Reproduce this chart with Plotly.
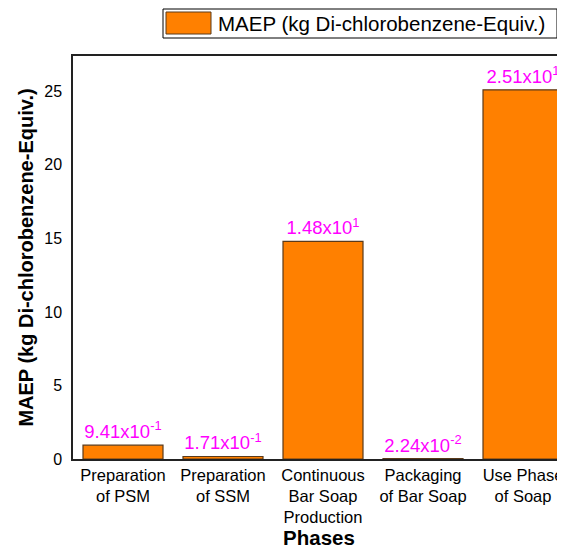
import plotly.graph_objects as go

categories = ["Preparation<br>of PSM", "Preparation<br>of SSM", "Continuous<br>Bar Soap<br>Production",
              "Packaging<br>of Bar Soap", "Use Phase<br>of Soap"]
values = [0.941, 0.171, 14.8, 0.0224, 25.1]
labels = ["9.41x10<sup>-1</sup>", "1.71x10<sup>-1</sup>", "1.48x10<sup>1</sup>",
          "2.24x10<sup>-2</sup>", "2.51x10<sup>1</sup>"]
series_name = "MAEP (kg Di-chlorobenzene-Equiv.)"
y_ticks = [0, 5, 10, 15, 20, 25]

OFF = 8  # page body margin offset
W, H = 565 - OFF, 552 - OFF
ML, MR, MT, MB = 73 - OFF, 0, 56 - OFF, 552 - 459
PW, PH = W - ML - MR, H - MT - MB

fig = go.Figure()
fig.add_trace(go.Bar(
    x=list(range(len(categories))), y=values, width=0.8,
    marker=dict(color="#FF8000", line=dict(color="#5a3a1a", width=1.2)),
    text=labels, textposition="outside", cliponaxis=False, constraintext="none",
    textfont=dict(color="#FF00FF", size=18.5, family="Liberation Sans, Arial"),
    name=series_name, showlegend=False,
))

fig.update_layout(
    width=W, height=H,
    margin=dict(l=ML, r=MR, t=MT, b=MB, autoexpand=False),
    paper_bgcolor="white", plot_bgcolor="white",
    font=dict(family="Liberation Sans, Arial", color="black", size=16),
    bargap=0.2,
    xaxis=dict(
        tickmode="array", tickvals=list(range(len(categories))), ticktext=categories,
        range=[-0.5, 4.42], showline=True, linecolor="#222", linewidth=1.5,
        mirror=True, ticks="", showgrid=False, zeroline=False, automargin=False,
        tickfont=dict(size=16.5),
        title=dict(text="<b>Phases</b>", font=dict(size=20.5), standoff=3),
    ),
    yaxis=dict(
        range=[0, 27.4], tickvals=y_ticks, showline=True, linecolor="#222", linewidth=1.5,
        ticks="", showgrid=False, zeroline=False, tickfont=dict(size=16), automargin=False,
        ticklabelstandoff=6,
        title=dict(text="<b>MAEP (kg Di-chlorobenzene-Equiv.)</b>", font=dict(size=20), standoff=5),
    ),
)


def fx(px):
    return (px - OFF - ML) / PW


def fy(py):
    return (H - MB - (py - OFF)) / PH


shapes = [
    dict(type="rect", xref="paper", yref="paper",
         x0=fx(163), x1=fx(557), y0=fy(38), y1=fy(9),
         line=dict(color="black", width=1), fillcolor="white"),
    dict(type="rect", xref="paper", yref="paper",
         x0=fx(166), x1=fx(211), y0=fy(34), y1=fy(12),
         line=dict(color="#5a3a1a", width=1), fillcolor="#FF8000"),
]
fig.update_layout(shapes=shapes)
fig.add_annotation(xref="paper", yref="paper",
                   x=fx(216), y=fy(23.5),
                   xanchor="left", yanchor="middle", showarrow=False,
                   text=series_name, font=dict(size=20.5, color="black"))

fig.write_html("out.html")
